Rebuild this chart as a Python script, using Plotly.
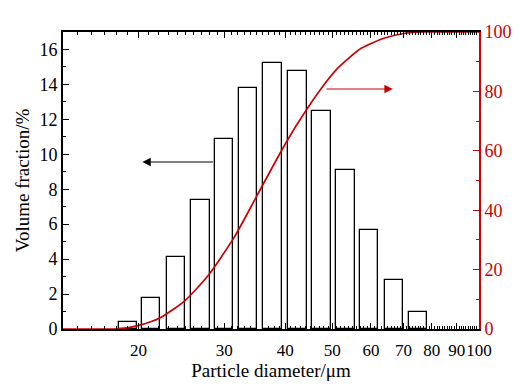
import numpy as np
import plotly.graph_objects as go

# ---- data ----
bar_diameters = [19.0, 21.2, 23.9, 26.8, 30.0, 33.6, 37.7, 42.4, 47.5, 53.2, 59.5, 66.9, 75.0]
volume_fraction = [0.4, 1.8, 4.1, 7.4, 10.9, 13.8, 15.25, 14.75, 12.5, 9.1, 5.65, 2.8, 1.0]

curve_diameters = [14.0, 16.0, 17.8, 18.97, 20.04, 22.18, 24.89, 27.8, 31.48, 34.91, 39.0,
                   42.17, 47.2, 51.4, 57.3, 64.0, 70.1, 76.9, 85.0, 100.0]
cumulative = [0.0, 0.0, 0.0, 0.4, 1.2, 3.8, 9.5, 18.0, 31.0, 44.5, 59.0,
              68.5, 80.5, 88.0, 94.5, 98.0, 99.5, 100.0, 100.0, 100.0]

x_tick_values = [20, 30, 40, 50, 60, 70, 80, 90, 100]
x_tick_labels = ["20", "30", "40", "50", "60", "70", "80", "90", "100"]
y_tick_values = [0, 2, 4, 6, 8, 10, 12, 14, 16]
y2_tick_values = [0, 20, 40, 60, 80, 100]

RED = "#cc0000"
FONT = "Liberation Serif"

# bar width as a half-width in log10 units
hw = 0.0187
centers = np.array(bar_diameters)
widths = centers * (10 ** hw - 10 ** (-hw))
offsets = centers * (10 ** (-hw)) - centers

fig = go.Figure()
fig.add_trace(go.Bar(
    x=bar_diameters, y=volume_fraction, width=widths, offset=offsets,
    marker=dict(color="white", line=dict(color="black", width=1.3)),
    showlegend=False, yaxis="y"))
fig.add_trace(go.Scatter(
    x=curve_diameters, y=cumulative, mode="lines",
    line=dict(color=RED, width=1.7, shape="spline", smoothing=0.6),
    showlegend=False, yaxis="y2"))

minor_x = [v for v in range(15, 100) if v not in x_tick_values]

tickf = dict(family=FONT, size=18, color="black")
xtickf = dict(family=FONT, size=17, color="black")
titlef = dict(family=FONT, size=19, color="black")

fig.update_layout(
    width=515, height=382,
    margin=dict(l=55, r=38, t=24, b=61),
    paper_bgcolor="white", plot_bgcolor="white",
    font=dict(family=FONT, size=18, color="black"),
    bargap=0,
    xaxis=dict(
        type="log", range=[np.log10(14), 2],
        tickmode="array", tickvals=x_tick_values, ticktext=x_tick_labels,
        tickangle=0, ticklabelstandoff=5,
        ticks="inside", ticklen=6, tickwidth=1.3, tickcolor="black",
        minor=dict(tickmode="array", tickvals=minor_x, ticks="inside",
                   ticklen=3, tickwidth=1, tickcolor="black", showgrid=False),
        showline=True, linecolor="black", linewidth=1.6, mirror="ticks",
        showgrid=False, zeroline=False,
        title=dict(text="Particle diameter/μm", font=titlef, standoff=2),
        tickfont=xtickf,
    ),
    yaxis=dict(
        range=[0, 17], tickmode="array", tickvals=y_tick_values,
        ticks="inside", ticklen=6, tickwidth=1.3, tickcolor="black",
        minor=dict(dtick=1, ticks="inside", ticklen=3, tickwidth=1,
                   tickcolor="black", showgrid=False),
        showline=True, linecolor="black", linewidth=1.6,
        showgrid=False, zeroline=False,
        title=dict(text="Volume fraction/%", font=titlef, standoff=5),
        tickfont=tickf,
    ),
    yaxis2=dict(
        overlaying="y", side="right", range=[0, 100],
        tickmode="array", tickvals=y2_tick_values,
        ticks="inside", ticklen=6, tickwidth=1.3, tickcolor=RED,
        minor=dict(dtick=10, ticks="inside", ticklen=3, tickwidth=1,
                   tickcolor=RED, showgrid=False),
        showline=True, linecolor=RED, linewidth=1.6,
        showgrid=False, zeroline=False,
        tickfont=dict(family=FONT, size=18, color=RED),
    ),
    annotations=[
        dict(x=1.309, y=9.56, ax=1.457, ay=9.56, xref="x", yref="y",
             axref="x", ayref="y", text="", showarrow=True,
             arrowhead=2, arrowsize=1.4, arrowwidth=1.2, arrowcolor="black"),
        dict(x=1.823, y=80.8, ax=1.684, ay=80.8, xref="x", yref="y2",
             axref="x", ayref="y2", text="", showarrow=True,
             arrowhead=2, arrowsize=1.4, arrowwidth=1.2, arrowcolor=RED),
    ],
)

fig.write_html("out.html")
